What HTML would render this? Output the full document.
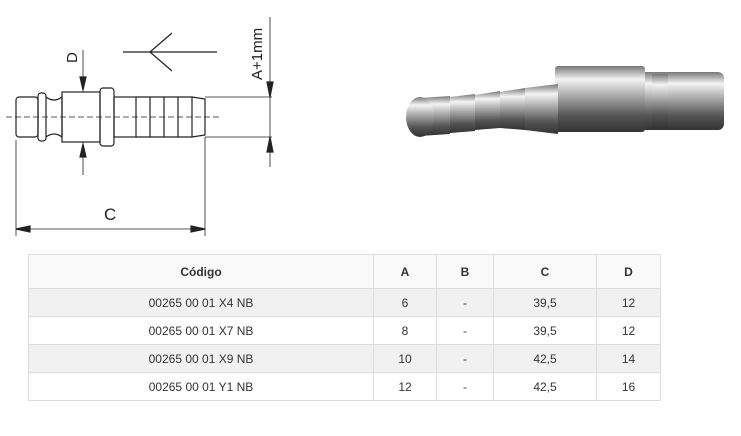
<!DOCTYPE html><html><head><style>
body{margin:0;width:741px;height:436px;background:#fff;position:relative;overflow:hidden;font-family:"Liberation Sans",sans-serif}
table{position:absolute;left:28px;top:254px;width:633px;border-collapse:collapse;font-size:12px;color:#333;table-layout:fixed}
td,th{border:1px solid #ddd;text-align:center;height:27px;padding:0}
th{height:33px;font-weight:bold;background:#f9f9f9}
tr.g td{background:#f1f1f1}
</style></head><body>
<svg width="741" height="250" style="position:absolute;left:0;top:0" stroke="#222" fill="none" stroke-width="1.2">
<defs><linearGradient id="m" x1="0" y1="0" x2="0" y2="1">
<stop offset="0" stop-color="#777"/><stop offset="0.2" stop-color="#f4f4f4"/><stop offset="0.45" stop-color="#aaa"/><stop offset="0.75" stop-color="#555"/><stop offset="1" stop-color="#333"/></linearGradient></defs>
<line x1="6" y1="117" x2="222" y2="117" stroke-dasharray="6,3" stroke-width="0.7"/>
<rect x="16" y="97" width="22" height="40" rx="3"/>
<rect x="38" y="93" width="8" height="48" rx="3"/>
<path d="M46 97 Q54 103 62 97 L62 137 Q54 131 46 137"/>
<rect x="62" y="92" width="38" height="50"/>
<rect x="100" y="88" width="14" height="58" rx="3"/>
<rect x="114" y="97" width="22" height="40"/>
<path d="M136 97 L150 97 L150 137 L136 137 M150 97 L164 97 L164 137 L150 137 M164 97 L178 97 L178 137 L164 137 M178 97 L192 97 L192 137 L178 137 M192 97 L205 99 L205 135 L192 137"/>
<line x1="205" y1="97" x2="272" y2="97" stroke-width="0.8"/><line x1="205" y1="137" x2="272" y2="137" stroke-width="0.8"/>
<line x1="270" y1="17" x2="270" y2="167" stroke-width="0.8"/>
<path d="M267 82 L270 97 L273 82Z M267 152 L270 137 L273 152Z" fill="#222"/>
<text x="262" y="80" transform="rotate(-90 262 80)" font-size="15" fill="#222" stroke="none" font-family="Liberation Sans">A+1mm</text>
<line x1="83" y1="50" x2="83" y2="92" stroke-width="0.8"/><line x1="83" y1="142" x2="83" y2="175" stroke-width="0.8"/>
<path d="M80 77 L83 90 L86 77Z M80 157 L83 144 L86 157Z" fill="#222"/>
<text x="77" y="63" transform="rotate(-90 77 63)" font-size="15" fill="#222" stroke="none" font-family="Liberation Sans">D</text>
<line x1="16" y1="140" x2="16" y2="236" stroke-width="0.8"/><line x1="205" y1="137" x2="205" y2="236" stroke-width="0.8"/>
<line x1="16" y1="229" x2="205" y2="229" stroke-width="0.8"/>
<path d="M16 229 L30 226 L30 232Z M205 229 L191 226 L191 232Z" fill="#222"/>
<text x="104" y="220" font-size="17" fill="#222" stroke="none" font-family="Liberation Sans">C</text>
<path d="M123 52 L217 52 M150 52 L172 33 M150 52 L172 71"/>
<g stroke="none">
<rect x="640" y="72" width="84" height="58" fill="url(#m)" rx="6"/>
<rect x="652" y="74" width="16" height="54" fill="url(#m)"/>
<rect x="555" y="66" width="90" height="66" fill="url(#m)" rx="3"/>
<path d="M525 88 L558 84 L558 134 L525 130Z" fill="url(#m)"/>
<path d="M500 92 L525 88 L525 130 L500 128Z" fill="url(#m)"/>
<path d="M475 95 L500 91 L500 128 L475 130Z" fill="url(#m)"/>
<path d="M450 97 L475 94 L475 131 L450 133Z" fill="url(#m)"/>
<path d="M420 98 L450 96 L450 134 L420 136Z" fill="url(#m)"/>
<ellipse cx="420" cy="117" rx="14" ry="20" fill="url(#m)"/>
</g>
</svg>
<table>
<tr><th style="width:344px">Código</th><th style="width:62px">A</th><th style="width:56px">B</th><th style="width:102px">C</th><th>D</th></tr>
<tr class="g"><td>00265 00 01 X4 NB</td><td>6</td><td>-</td><td>39,5</td><td>12</td></tr>
<tr><td>00265 00 01 X7 NB</td><td>8</td><td>-</td><td>39,5</td><td>12</td></tr>
<tr class="g"><td>00265 00 01 X9 NB</td><td>10</td><td>-</td><td>42,5</td><td>14</td></tr>
<tr><td>00265 00 01 Y1 NB</td><td>12</td><td>-</td><td>42,5</td><td>16</td></tr>
</table>
</body></html>
